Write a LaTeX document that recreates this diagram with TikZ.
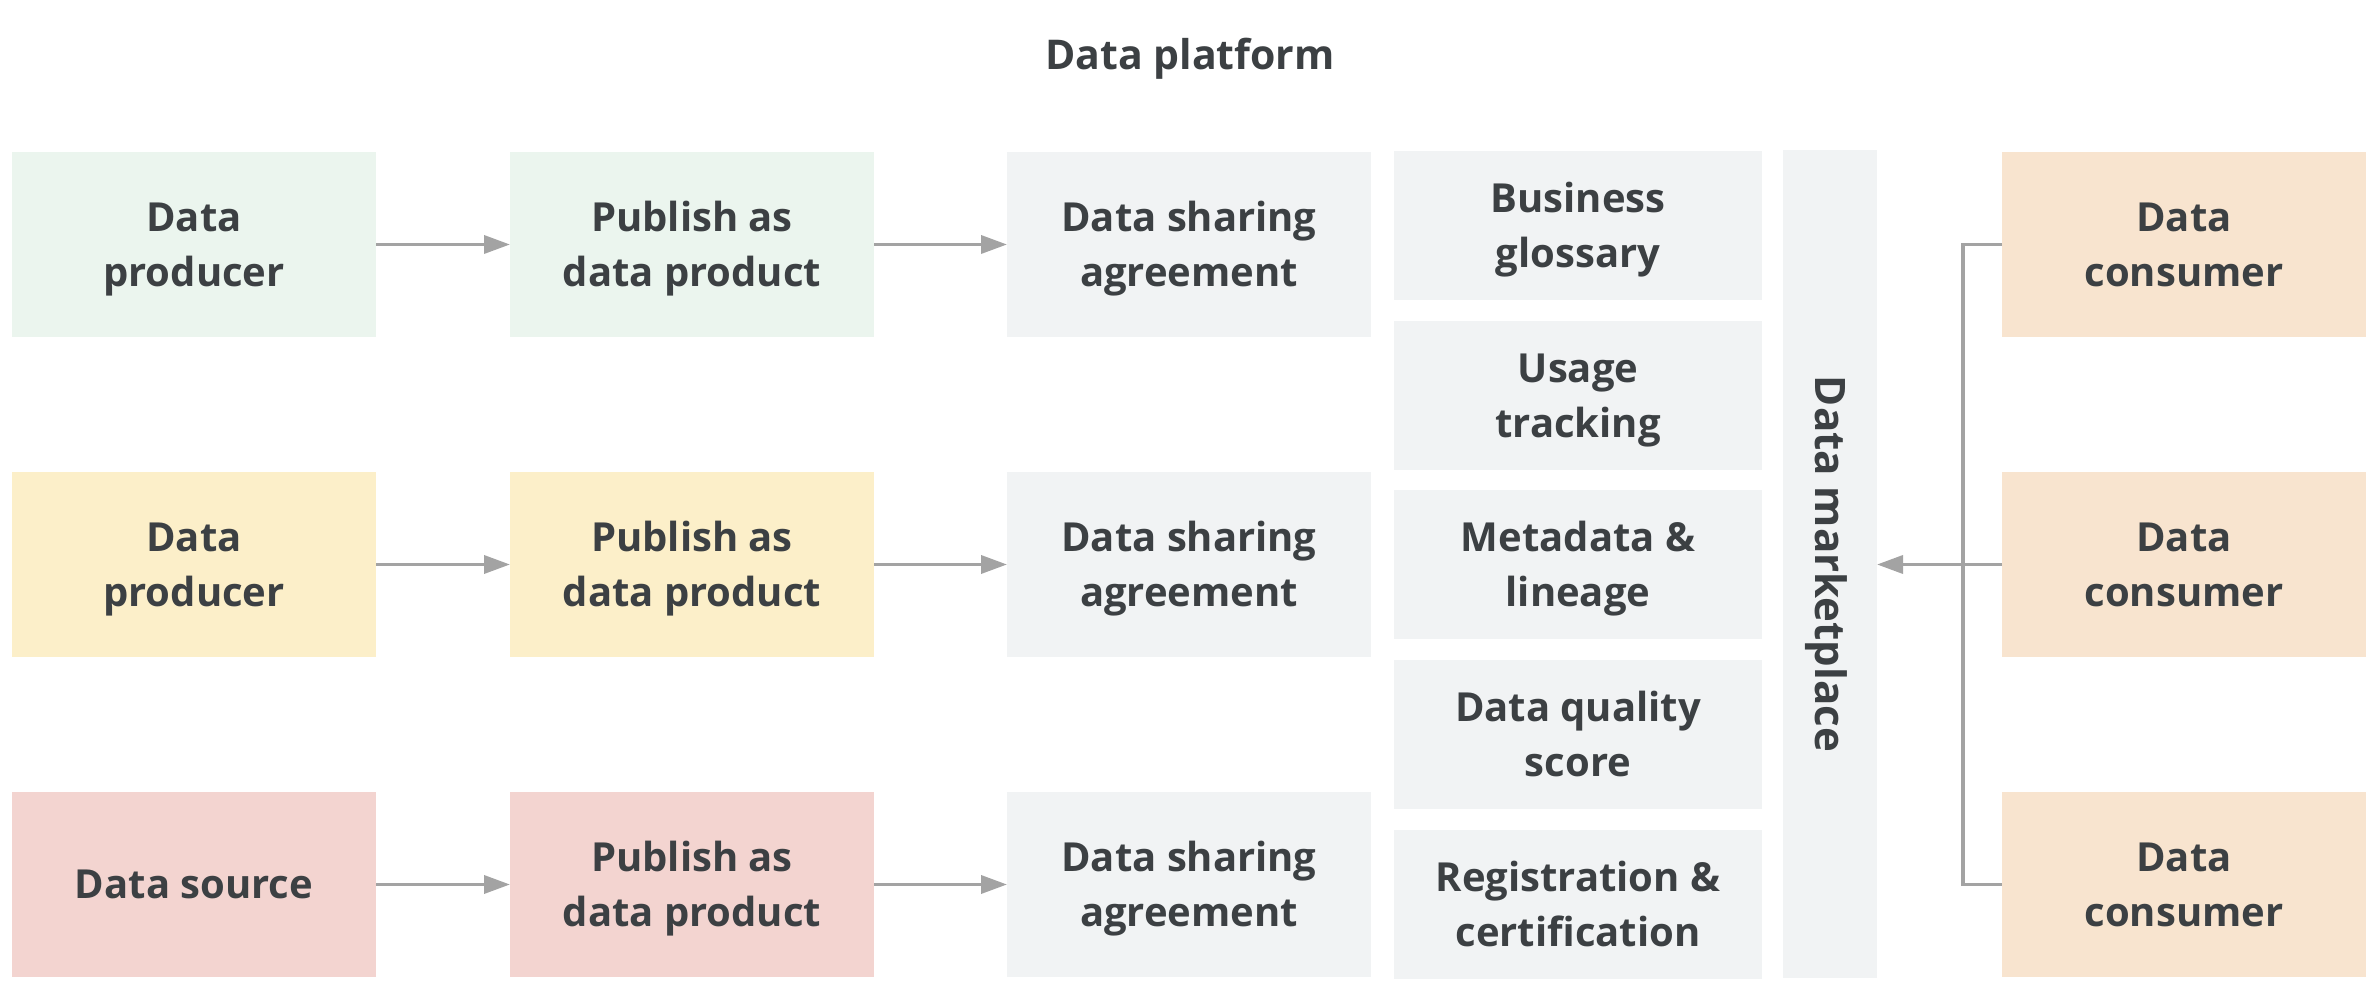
\documentclass[tikz,border=0pt]{standalone}
\usepackage{fontspec}
\setmainfont{Open Sans}
\usetikzlibrary{arrows.meta}

\definecolor{inkgray}{HTML}{3C4043}
\definecolor{linegray}{HTML}{A3A3A3}
\definecolor{prodgreen}{HTML}{EBF5EE}
\definecolor{prodyellow}{HTML}{FCEFC9}
\definecolor{srcpink}{HTML}{F3D4D0}
\definecolor{platgray}{HTML}{F1F3F4}
\definecolor{conspeach}{HTML}{F8E4CF}

\tikzset{
    % text boxes measured from the cap line to the last baseline
    twolines/.style={text height=47.8pt, text depth=6pt},
    oneline/.style={text height=20.3pt, text depth=6pt},
    box/.style={twolines, minimum width=182pt, minimum height=92.5pt, align=center},
    feature/.style={twolines, fill=platgray, minimum width=184pt, minimum height=74.5pt, align=center},
    flow/.style={draw=linegray, line width=1.8pt, -{Triangle[length=13pt, width=9pt]}},
    bus/.style={draw=linegray, line width=1.8pt}
}

\begin{document}
\begin{tikzpicture}[x=0.5pt, y=-0.5pt, text=inkgray, font=\bfseries\fontsize{20}{27.5}\selectfont, every node/.style={inner sep=0pt, outer sep=0pt}]
    \useasboundingbox (0, 0) rectangle (2378, 988);

    \node[oneline, font=\bfseries\fontsize{20.5}{27.5}\selectfont] (title) at (1190, 55) {Data platform};

    % producers and sources
    \node[box, fill=prodgreen] (prod1) at (194, 244.5) {Data\\producer};
    \node[box, fill=prodyellow] (prod2) at (194, 564.5) {Data\\producer};
    \node[box, oneline, fill=srcpink] (src3) at (194, 884.5) {Data source};

    \node[box, fill=prodgreen] (pub1) at (692, 244.5) {Publish as\\data product};
    \node[box, fill=prodyellow] (pub2) at (692, 564.5) {Publish as\\data product};
    \node[box, fill=srcpink] (pub3) at (692, 884.5) {Publish as\\data product};

    \node[box, fill=platgray] (dsa1) at (1189, 244.5) {Data sharing\\agreement};
    \node[box, fill=platgray] (dsa2) at (1189, 564.5) {Data sharing\\agreement};
    \node[box, fill=platgray] (dsa3) at (1189, 884.5) {Data sharing\\agreement};

    % platform features
    \node[feature] (glossary) at (1578, 225.5) {Business\\glossary};
    \node[feature] (usage) at (1578, 395.5) {Usage\\tracking};
    \node[feature] (meta) at (1578, 565) {Metadata \&\\lineage};
    \node[feature] (quality) at (1578, 734.5) {Data quality\\score};
    \node[feature] (regist) at (1578, 904.5) {Registration \&\\certification};

    \node[oneline, fill=platgray, rotate=-90, minimum width=414pt, minimum height=47pt,
          font=\bfseries\fontsize{21}{27.5}\selectfont] (market) at (1830, 564) {Data marketplace};

    % consumers
    \node[box, fill=conspeach] (cons1) at (2184, 244.5) {Data\\consumer};
    \node[box, fill=conspeach] (cons2) at (2184, 564.5) {Data\\consumer};
    \node[box, fill=conspeach] (cons3) at (2184, 884.5) {Data\\consumer};

    \draw[flow] (prod1) -- (pub1);
    \draw[flow] (pub1) -- (dsa1);
    \draw[flow] (prod2) -- (pub2);
    \draw[flow] (pub2) -- (dsa2);
    \draw[flow] (src3) -- (pub3);
    \draw[flow] (pub3) -- (dsa3);

    \coordinate (bustop) at (1963, 244.5);
    \coordinate (busbot) at (1963, 884.5);
    \draw[bus] (cons1.west) -- (bustop) -- (busbot) -- (cons3.west);
    \draw[flow] (cons2.west) -- (cons2.west -| market.north);
\end{tikzpicture}
\end{document}
